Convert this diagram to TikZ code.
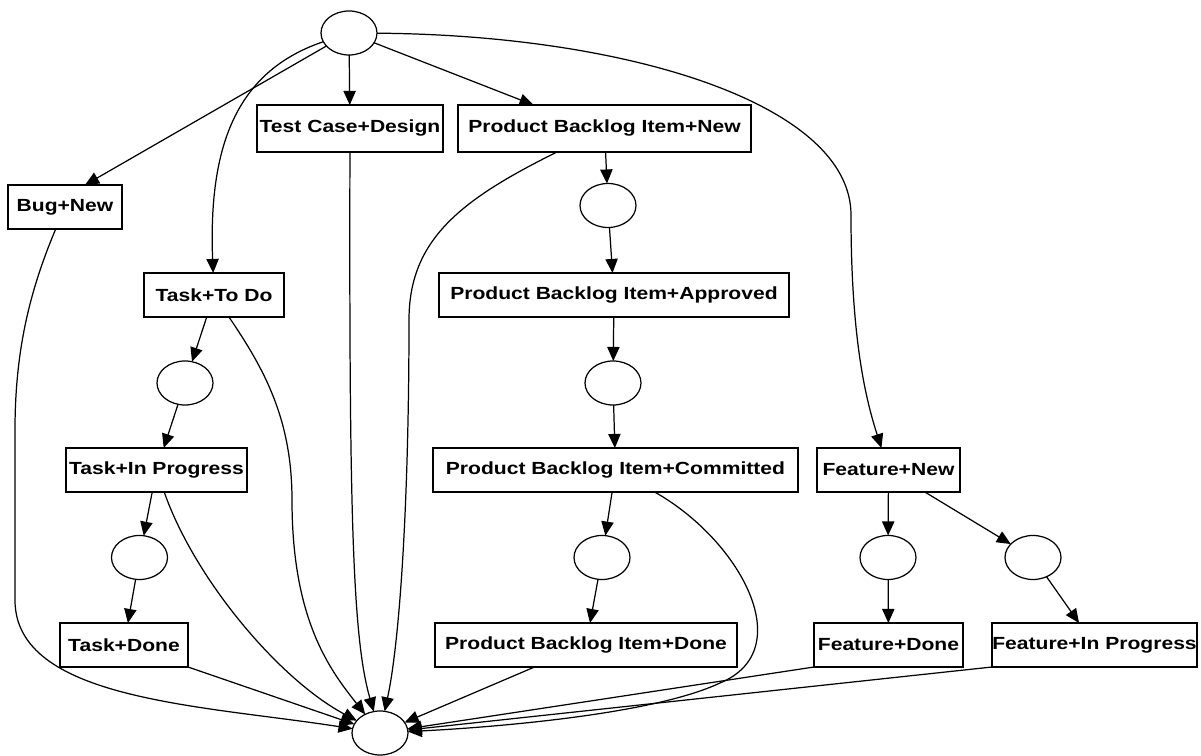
\documentclass[tikz,border=0pt]{standalone}
\usepackage{fontspec}
\newfontfamily\labfont[FakeStretch=1.2]{Liberation Sans}
\usetikzlibrary{arrows.meta,shapes.geometric}
\newcommand{\pxu}{0.02cm}
\begin{document}
\begin{tikzpicture}[x=0.02cm,y=-0.02cm,
  box/.style={draw, line width=0.7pt, inner sep=0pt, outer sep=0pt,
    minimum height=44*\pxu, font=\labfont\bfseries\fontsize{10}{12}\selectfont},
  place/.style={ellipse, draw, line width=0.7pt, inner sep=0pt, outer sep=0pt,
    minimum width=56*\pxu, minimum height=44*\pxu},
  arr/.style={-{Triangle[length=8pt,width=7pt]}, line width=0.7pt}]
\useasboundingbox (0,0) rectangle (1201,756);
\fill[white] (0,0) rectangle (1201,756);

% nodes
\node[place] (top) at (349,33) {};
\node[box, minimum width=186*\pxu, minimum height=47*\pxu] (tc) at (350,128.5) {Test Case+Design};
\node[box, minimum width=293*\pxu, minimum height=47*\pxu] (pbnew) at (604.5,128.5) {Product Backlog Item+New};
\node[box, minimum width=114*\pxu] (bug) at (65,207) {Bug+New};
\node[box, minimum width=140*\pxu] (todo) at (214,295) {Task+To Do};
\node[place] (etodo) at (185,383) {};
\node[box, minimum width=181*\pxu] (inprog) at (156.5,470) {Task+In Progress};
\node[place] (einprog) at (139.5,557.5) {};
\node[box, minimum width=128*\pxu] (tdone) at (124,645) {Task+Done};
\node[place] (epb1) at (608,205.5) {};
\node[box, minimum width=350*\pxu] (pbappr) at (614,295) {Product Backlog Item+Approved};
\node[place] (epb2) at (613,383) {};
\node[box, minimum width=365*\pxu] (pbcomm) at (615.5,470) {Product Backlog Item+Committed};
\node[place] (epb3) at (602,557.5) {};
\node[box, minimum width=302*\pxu] (pbdone) at (586,645) {Product Backlog Item+Done};
\node[box, minimum width=143*\pxu] (fnew) at (888.5,470) {Feature+New};
\node[place] (ef1) at (888,557.5) {};
\node[place] (ef2) at (1033,557.5) {};
\node[box, minimum width=149*\pxu] (fdone) at (888.5,645) {Feature+Done};
\node[box, minimum width=205*\pxu] (fprog) at (1094.5,645) {Feature+In Progress};
\node[place] (bot) at (380,733) {};

% edges from top
\draw[arr] (top) -- ([xshift=0.4cm]bug.north);
\draw[arr] (top) .. controls (240,70) and (208,140) .. (todo);
\draw[arr] (top) -- (tc);
\draw[arr] (top) -- ([xshift=-1.42cm]pbnew.north);
\draw[arr] (top) .. controls (630,35) and (851,105) .. (851,215)
  .. controls (851,340) and (866,400) .. (fnew);

% product backlog chain
\draw[arr] (pbnew) -- (epb1);
\draw[arr] (epb1) -- (pbappr);
\draw[arr] (pbappr) -- (epb2);
\draw[arr] (epb2) -- (pbcomm);
\draw[arr] (pbcomm) -- (epb3);
\draw[arr] (epb3) -- (pbdone);

% task chain
\draw[arr] (todo) -- (etodo);
\draw[arr] (etodo) -- (inprog);
\draw[arr] (inprog) -- (einprog);
\draw[arr] (einprog) -- (tdone);

% feature chain
\draw[arr] (fnew) -- (ef1);
\draw[arr] (fnew) -- (ef2);
\draw[arr] (ef1) -- (fdone);
\draw[arr] (ef2) -- (fprog);

% edges into bottom
\draw[arr] (bug) .. controls (30,290) and (15,350) .. (15,430) -- (15,600)
  .. controls (15,700) and (200,705) .. (bot);
\draw[arr] (tdone.south east) -- (bot);
\draw[arr] (inprog) .. controls (195,580) and (280,680) .. (bot);
\draw[arr] (todo) .. controls (265,370) and (292,420) .. (292,500)
  .. controls (292,620) and (330,670) .. (bot);
\draw[arr] (tc) .. controls (349,520) and (353,640) .. (bot);
\draw[arr] (pbnew) .. controls (460,200) and (409,240) .. (409,320)
  .. controls (409,500) and (400,640) .. (bot);
\draw[arr] (pbdone) -- (bot);
\draw[arr] (pbcomm) .. controls (740,540) and (800,650) .. (720,683)
  .. controls (650,716) and (480,728) .. (bot);
\draw[arr] (fdone.south west) -- (bot);
\draw[arr] (fprog.south west) -- (bot);
\end{tikzpicture}
\end{document}
